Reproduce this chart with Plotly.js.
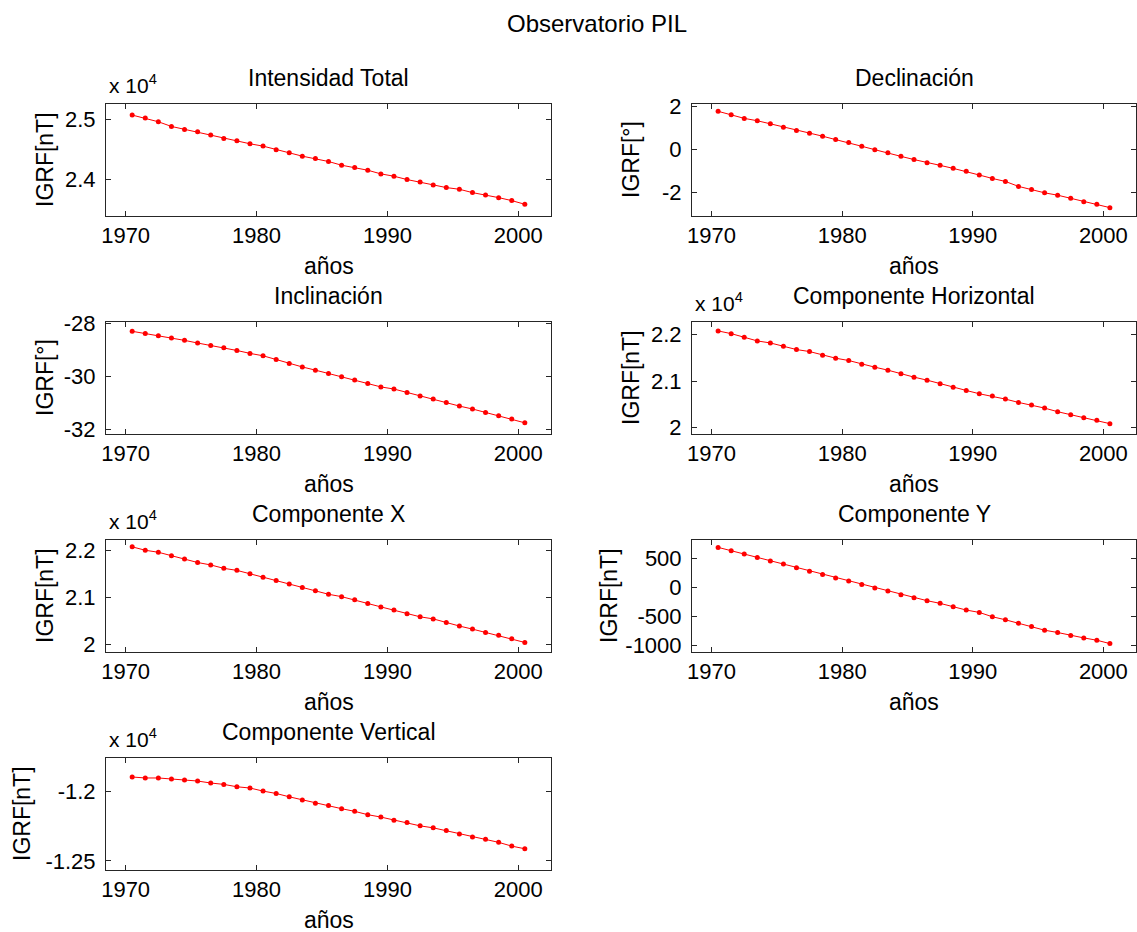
<!DOCTYPE html>
<html>
<head>
<meta charset="utf-8">
<script src="https://cdn.plot.ly/plotly-3.0.1.min.js"></script>
<style>html,body{margin:0;padding:0;background:#fff;}#chart{width:1137px;height:932px;}</style>
</head>
<body>
<div id="chart"></div>
<script>
// ---- data ----
const years = [1970.5,1971.5,1972.5,1973.5,1974.5,1975.5,1976.5,1977.5,1978.5,1979.5,
               1980.5,1981.5,1982.5,1983.5,1984.5,1985.5,1986.5,1987.5,1988.5,1989.5,
               1990.5,1991.5,1992.5,1993.5,1994.5,1995.5,1996.5,1997.5,1998.5,1999.5,2000.5];

const intensidadTotal = [25078,25028,24966,24888,24838,24799,24743,24687,24648,24598,
                         24559,24497,24447,24391,24352,24302,24240,24201,24156,24095,
                         24056,24000,23961,23911,23866,23838,23782,23743,23698,23648,23587];

const declinacion = [1.77,1.61,1.44,1.33,1.19,1.03,0.875,0.75,0.61,0.45,
                     0.31,0.14,-0.02,-0.16,-0.33,-0.48,-0.63,-0.75,-0.89,-1.03,
                     -1.20,-1.36,-1.50,-1.73,-1.88,-2.03,-2.14,-2.28,-2.45,-2.56,-2.72];

const inclinacion = [-28.30,-28.38,-28.47,-28.55,-28.64,-28.74,-28.83,-28.92,-29.02,-29.13,
                     -29.22,-29.36,-29.51,-29.64,-29.76,-29.89,-30.01,-30.13,-30.26,-30.39,
                     -30.47,-30.60,-30.73,-30.84,-30.98,-31.11,-31.22,-31.35,-31.47,-31.60,-31.74];

const compHorizontal = [22079,22021,21943,21864,21821,21750,21679,21636,21557,21493,
                        21443,21364,21300,21236,21157,21086,21021,20943,20871,20800,
                        20729,20679,20614,20543,20486,20421,20343,20279,20214,20157,20086];

const compX = [22080,22007,21964,21891,21818,21745,21693,21620,21577,21504,
               21431,21358,21285,21212,21139,21066,21015,20949,20869,20796,
               20730,20650,20584,20540,20460,20387,20321,20248,20190,20117,20036];

const compY = [697,639,581,523,459,407,343,285,227,168,
               116,52,-6,-58,-122,-174,-227,-273,-331,-389,
               -430,-505,-558,-616,-674,-738,-778,-831,-872,-912,-970];

const compVertical = [-11899,-11906,-11906,-11913,-11920,-11928,-11942,-11952,-11969,-11978,
                      -12000,-12017,-12041,-12063,-12087,-12104,-12126,-12145,-12169,-12186,
                      -12208,-12225,-12249,-12263,-12283,-12307,-12328,-12345,-12367,-12394,-12413];

const xTickVals = [1970,1980,1990,2000];
const xTickText = ['1970','1980','1990','2000'];

const panelTitles = ['Intensidad Total','Declinación','Inclinación','Componente Horizontal',
                     'Componente X','Componente Y','Componente Vertical'];
const yLabels = ['IGRF[nT]','IGRF[°]','IGRF[°]','IGRF[nT]','IGRF[nT]','IGRF[nT]','IGRF[nT]'];
const series = [intensidadTotal, declinacion, inclinacion, compHorizontal, compX, compY, compVertical];

const yTickVals = [[24000,25000],[-2,0,2],[-32,-30,-28],[20000,21000,22000],[20000,21000,22000],[-1000,-500,0,500],[-12500,-12000]];
const yTickText = [['2.4','2.5'],['-2','0','2'],['-32','-30','-28'],['2','2.1','2.2'],['2','2.1','2.2'],['-1000','-500','0','500'],['-1.25','-1.2']];
const yRanges = [[23391,25263],[-3.11,2.11],[-32.16,-27.95],[19864,22271],[19832,22226],[-1116,825],[-12565,-11763]];
const hasExponent = [true,false,false,true,true,false,true];
const xRange = [1968.5, 2002.5];

// ---- layout helpers ----
const W = 1137, H = 932;
const px = v => v / W;
const py = v => 1 - v / H;
const colLeft = [106, 692], colRight = [551, 1136];
const rowTop = [104, 322, 540, 758], panelH = 112, rowStep = 218;
const ylabelX = [45, 631, 45, 631, 45, 609, 22];
const FONT = '"Liberation Sans", Arial, Helvetica, sans-serif';
const TICK = 22, TXT = 23, TTL = 24;

const traces = [];
const layout = {
  width: W, height: H,
  margin: {l:0, r:0, t:0, b:0},
  paper_bgcolor: '#fff', plot_bgcolor: '#fff',
  showlegend: false,
  font: {family: FONT, size: TICK, color: '#000'},
  annotations: []
};

layout.annotations.push({
  text: 'Observatorio PIL', xref:'paper', yref:'paper',
  x: px(597), y: py(23), xanchor:'center', yanchor:'middle', showarrow:false,
  font: {family: FONT, size: TTL, color:'#000'}
});

series.forEach((vals, i) => {
  const r = Math.floor(i / 2), c = i % 2;
  const n = i + 1;
  const sfx = n === 1 ? '' : String(n);
  traces.push({
    x: years, y: vals, xaxis: 'x' + sfx, yaxis: 'y' + sfx,
    type: 'scatter', mode: 'lines+markers',
    line: {color: '#ff0000', width: 1},
    marker: {color: '#ff0000', size: 5, symbol: 'circle'},
    hoverinfo: 'skip'
  });
  const top = rowTop[r], bot = top + panelH;
  const common = {
    showline: true, linecolor: '#262626', linewidth: 1, mirror: 'allticks',
    ticks: 'inside', ticklen: 5, tickwidth: 1, tickcolor: '#262626',
    showgrid: false, zeroline: false, tickmode: 'array',
    tickfont: {family: FONT, size: TICK, color: '#000'}, fixedrange: true
  };
  layout['xaxis' + sfx] = Object.assign({}, common, {
    domain: [px(colLeft[c]), px(colRight[c])], anchor: 'y' + sfx,
    range: xRange, tickvals: xTickVals, ticktext: xTickText, ticklabelstandoff: 0
  });
  layout['yaxis' + sfx] = Object.assign({}, common, {
    domain: [py(bot), py(top)], anchor: 'x' + sfx,
    range: yRanges[i], tickvals: yTickVals[i], ticktext: yTickText[i], ticklabelstandoff: 5
  });
  const cx = (colLeft[c] + colRight[c]) / 2;
  layout.annotations.push({
    text: panelTitles[i], xref:'paper', yref:'paper', x: px(cx), y: py(78 + rowStep * r),
    xanchor:'center', yanchor:'middle', showarrow:false, font:{family:FONT, size:TXT, color:'#000'}
  });
  layout.annotations.push({
    text: 'años', xref:'paper', yref:'paper', x: px(cx), y: py(266 + rowStep * r),
    xanchor:'center', yanchor:'middle', showarrow:false, font:{family:FONT, size:TXT, color:'#000'}
  });
  layout.annotations.push({
    text: yLabels[i], xref:'paper', yref:'paper', x: px(ylabelX[i]), y: py(top + panelH / 2),
    xanchor:'center', yanchor:'middle', textangle: -90, showarrow:false, font:{family:FONT, size:TXT, color:'#000'}
  });
  if (hasExponent[i]) {
    layout.annotations.push({
      text: 'x 10<sup>4</sup>', xref:'paper', yref:'paper', x: px(colLeft[c] + 1), y: py(84 + rowStep * r),
      xanchor:'left', yanchor:'middle', showarrow:false, font:{family:FONT, size:21, color:'#000'}
    });
  }
});

Plotly.newPlot('chart', traces, layout, {staticPlot: true, displayModeBar: false});
</script>
</body>
</html>
